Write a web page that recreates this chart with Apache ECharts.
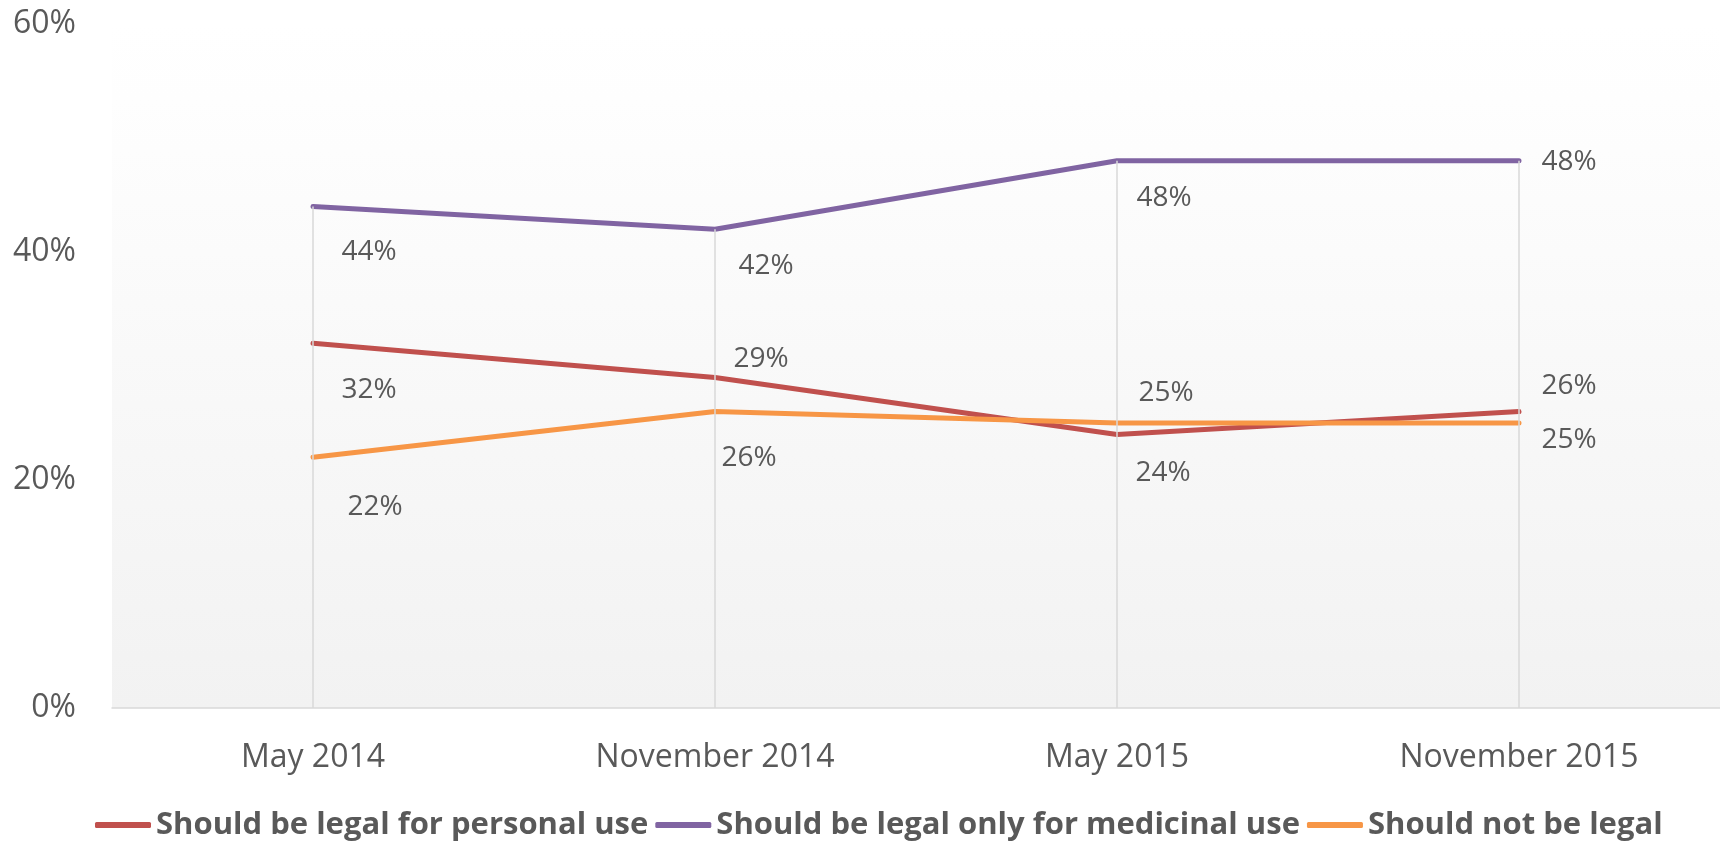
<!DOCTYPE html>
<html>
<head>
<meta charset="utf-8">
<title>Legal status opinion</title>
<script src="https://cdn.jsdelivr.net/npm/echarts@6.0.0/dist/echarts.min.js"></script>
<style>
  html, body { margin: 0; padding: 0; background: #ffffff; }
  #chart { width: 1720px; height: 841px; }
</style>
</head>
<body>
<div id="chart"></div>
<script>
// 数据
const categories = ['May 2014', 'November 2014', 'May 2015', 'November 2015']
const personalUse = [32, 29, 24, 26]
const medicinalOnly = [44, 42, 48, 48]
const notLegal = [22, 26, 25, 25]
const yTicks = [0, 20, 40, 60]

const seriesNames = [
  'Should be legal for personal use',
  'Should be legal only for medicinal use',
  'Should not be legal'
]
const colorArr = ['#C0504D', '#8064A2', '#F79646']

// 标签相对数据点的偏移 (像素)
const labelOffsets = [
  [[56, 47], [46, -18], [46, 39], [50, -26]],
  [[56, 46], [51, 37], [47, 37], [50, 1]],
  [[62, 50], [34, 46], [49, -30], [50, 17]]
]

const textColor = '#595959'
const font = 'Open Sans'

function buildSeries (name, values, idx) {
  return {
    name: name,
    type: 'line',
    z: 3,
    symbol: 'circle',
    symbolSize: 2,
    showSymbol: true,
    itemStyle: { color: colorArr[idx] },
    lineStyle: { width: 5, color: colorArr[idx], cap: 'round', join: 'round' },
    emphasis: { disabled: true },
    data: values.map((v, i) => ({
      value: v,
      label: {
        show: true,
        position: 'inside',
        offset: labelOffsets[idx][i],
        formatter: '{c}%',
        color: textColor,
        fontFamily: font,
        fontSize: 28
      }
    }))
  }
}

// 垂直线: 从最高点落到横轴
const dropLines = categories.map((c, i) => {
  const top = Math.max(personalUse[i], medicinalOnly[i], notLegal[i])
  return [{ coord: [c, top] }, { coord: [c, yTicks[0]] }]
})

const chart = echarts.init(document.getElementById('chart'), null, { renderer: 'canvas' })

const option = {
  animation: false,
  backgroundColor: '#ffffff',
  grid: {
    left: 112,
    right: 0,
    top: 24,
    bottom: 133,
    show: true,
    borderWidth: 0,
    backgroundColor: {
      type: 'linear',
      x: 0, y: 0, x2: 0, y2: 1,
      colorStops: [
        { offset: 0, color: '#ffffff' },
        { offset: 0.11, color: '#fefefe' },
        { offset: 1, color: '#f2f2f2' }
      ]
    }
  },
  legend: {
    left: 90,
    top: 801,
    icon: 'roundRect',
    itemWidth: 56,
    itemHeight: 6,
    itemGap: 7,
    selectedMode: false,
    data: seriesNames,
    textStyle: {
      color: textColor,
      fontFamily: font,
      fontWeight: 'bold',
      fontSize: 31,
      lineHeight: 38
    }
  },
  xAxis: {
    type: 'category',
    data: categories,
    boundaryGap: true,
    axisLine: { lineStyle: { color: '#d9d9d9', width: 1.5 } },
    axisTick: { show: false },
    axisLabel: {
      color: textColor,
      fontFamily: font,
      fontSize: 32,
      margin: 34
    },
    splitLine: { show: false }
  },
  yAxis: {
    type: 'value',
    min: yTicks[0],
    max: yTicks[yTicks.length - 1],
    interval: yTicks[1] - yTicks[0],
    axisLine: { show: false },
    axisTick: { show: false },
    splitLine: { show: false },
    axisLabel: {
      formatter: '{value}%',
      color: textColor,
      fontFamily: font,
      fontSize: 32,
      margin: 36
    }
  },
  series: [
    {
      name: 'drop',
      type: 'line',
      z: 1,
      data: [],
      silent: true,
      markLine: {
        silent: true,
        symbol: 'none',
        animation: false,
        label: { show: false },
        lineStyle: { color: '#d9d9d9', width: 1.5, type: 'solid' },
        data: dropLines
      }
    },
    buildSeries(seriesNames[0], personalUse, 0),
    buildSeries(seriesNames[1], medicinalOnly, 1),
    buildSeries(seriesNames[2], notLegal, 2)
  ]
}

chart.setOption(option)
</script>
</body>
</html>
